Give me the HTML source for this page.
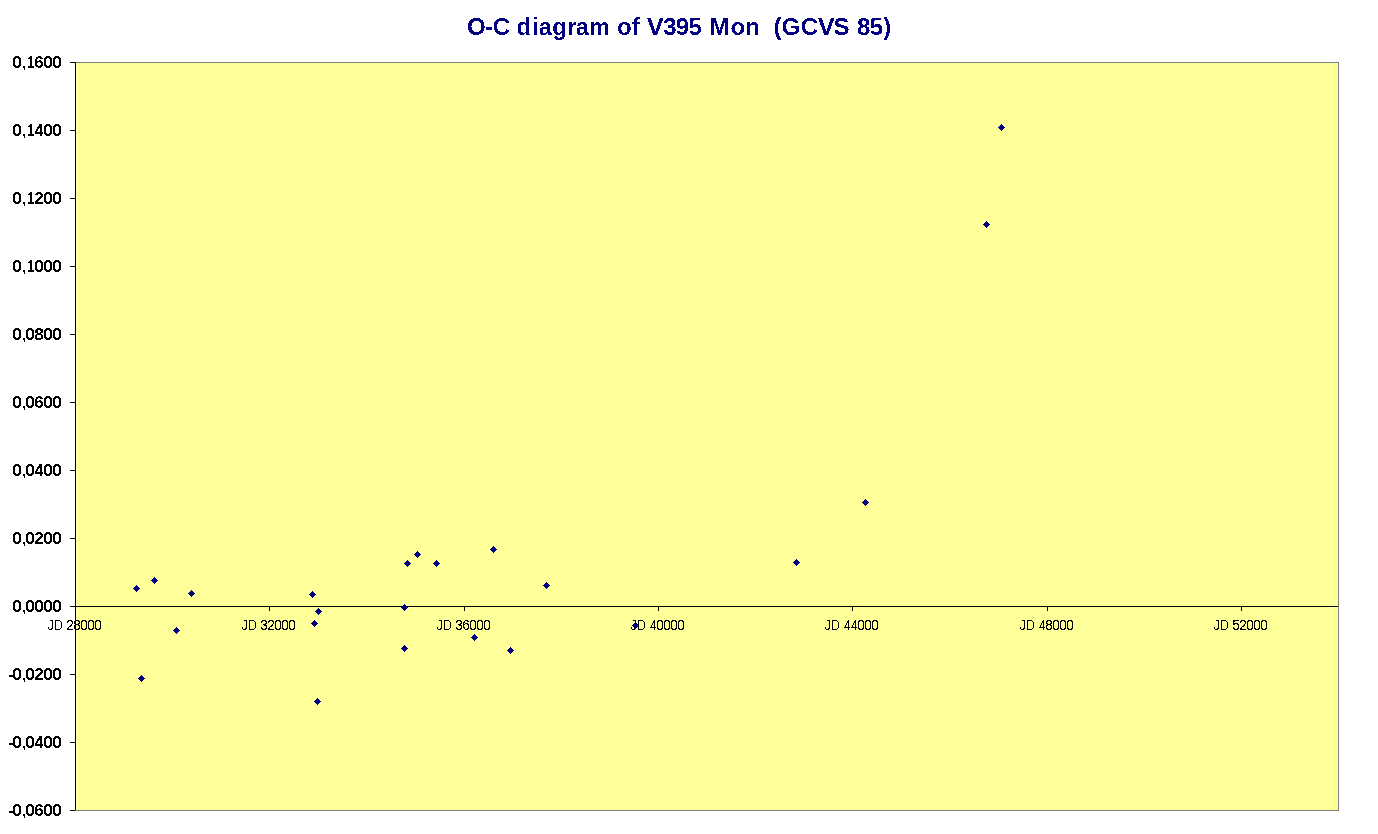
<!DOCTYPE html>
<html lang="en">
<head>
<meta charset="utf-8">
<title>O-C diagram of V395 Mon (GCVS 85)</title>
<style>
html,body{margin:0;padding:0;background:#fff;}
body{width:1378px;height:834px;overflow:hidden;}
svg{display:block;}
text{font-family:"Liberation Sans",Arial,Helvetica,sans-serif;white-space:pre;}
.ttl{font-size:24px;font-weight:bold;fill:#000080;}
.yl{font-size:17.25px;font-weight:bold;fill:#000;}
.xl{font-size:13.75px;fill:#000;}
.pt{fill:#000080;}
</style>
</head>
<body>
<svg width="1378" height="834" viewBox="0 0 1378 834">
<rect x="0" y="0" width="1378" height="834" fill="#ffffff"/>
<filter id="al" filterUnits="userSpaceOnUse" x="0" y="0" width="1378" height="834" color-interpolation-filters="sRGB"><feComponentTransfer><feFuncA type="discrete" tableValues="0 1"/></feComponentTransfer></filter>
<filter id="al2" filterUnits="userSpaceOnUse" x="0" y="0" width="1378" height="834" color-interpolation-filters="sRGB"><feComponentTransfer><feFuncA type="discrete" tableValues="0 0 0 0 1 1 1 1 1"/></feComponentTransfer></filter>
<g shape-rendering="crispEdges">
<rect x="75" y="62" width="1264" height="749" fill="#808080"/>
<rect x="76" y="63" width="1262" height="747" fill="#ffff99"/>
<rect x="75" y="62" width="1" height="748" fill="#000"/>
<rect x="70" y="62" width="5" height="1" fill="#000"/>
<rect x="70" y="130" width="5" height="1" fill="#000"/>
<rect x="70" y="198" width="5" height="1" fill="#000"/>
<rect x="70" y="266" width="5" height="1" fill="#000"/>
<rect x="70" y="334" width="5" height="1" fill="#000"/>
<rect x="70" y="402" width="5" height="1" fill="#000"/>
<rect x="70" y="470" width="5" height="1" fill="#000"/>
<rect x="70" y="538" width="5" height="1" fill="#000"/>
<rect x="70" y="606" width="5" height="1" fill="#000"/>
<rect x="70" y="674" width="5" height="1" fill="#000"/>
<rect x="70" y="742" width="5" height="1" fill="#000"/>
<rect x="70" y="810" width="5" height="1" fill="#000"/>
<rect x="75" y="606" width="1263" height="1" fill="#000"/>
<rect x="75" y="606" width="1" height="5" fill="#000"/>
<rect x="269" y="606" width="1" height="5" fill="#000"/>
<rect x="464" y="606" width="1" height="5" fill="#000"/>
<rect x="658" y="606" width="1" height="5" fill="#000"/>
<rect x="852" y="606" width="1" height="5" fill="#000"/>
<rect x="1047" y="606" width="1" height="5" fill="#000"/>
<rect x="1241" y="606" width="1" height="5" fill="#000"/>
<path class="pt" d="M136 585h1v1h1v1h1v1h1v1h-1v1h-1v1h-1v1h-1v-1h-1v-1h-1v-1h-1v-1h1v-1h1v-1h1z"/>
<path class="pt" d="M154 577h1v1h1v1h1v1h1v1h-1v1h-1v1h-1v1h-1v-1h-1v-1h-1v-1h-1v-1h1v-1h1v-1h1z"/>
<path class="pt" d="M191 590h1v1h1v1h1v1h1v1h-1v1h-1v1h-1v1h-1v-1h-1v-1h-1v-1h-1v-1h1v-1h1v-1h1z"/>
<path class="pt" d="M176 627h1v1h1v1h1v1h1v1h-1v1h-1v1h-1v1h-1v-1h-1v-1h-1v-1h-1v-1h1v-1h1v-1h1z"/>
<path class="pt" d="M141 675h1v1h1v1h1v1h1v1h-1v1h-1v1h-1v1h-1v-1h-1v-1h-1v-1h-1v-1h1v-1h1v-1h1z"/>
<path class="pt" d="M312 591h1v1h1v1h1v1h1v1h-1v1h-1v1h-1v1h-1v-1h-1v-1h-1v-1h-1v-1h1v-1h1v-1h1z"/>
<path class="pt" d="M318 608h1v1h1v1h1v1h1v1h-1v1h-1v1h-1v1h-1v-1h-1v-1h-1v-1h-1v-1h1v-1h1v-1h1z"/>
<path class="pt" d="M314 620h1v1h1v1h1v1h1v1h-1v1h-1v1h-1v1h-1v-1h-1v-1h-1v-1h-1v-1h1v-1h1v-1h1z"/>
<path class="pt" d="M404 604h1v1h1v1h1v1h1v1h-1v1h-1v1h-1v1h-1v-1h-1v-1h-1v-1h-1v-1h1v-1h1v-1h1z"/>
<path class="pt" d="M407 560h1v1h1v1h1v1h1v1h-1v1h-1v1h-1v1h-1v-1h-1v-1h-1v-1h-1v-1h1v-1h1v-1h1z"/>
<path class="pt" d="M417 551h1v1h1v1h1v1h1v1h-1v1h-1v1h-1v1h-1v-1h-1v-1h-1v-1h-1v-1h1v-1h1v-1h1z"/>
<path class="pt" d="M436 560h1v1h1v1h1v1h1v1h-1v1h-1v1h-1v1h-1v-1h-1v-1h-1v-1h-1v-1h1v-1h1v-1h1z"/>
<path class="pt" d="M404 645h1v1h1v1h1v1h1v1h-1v1h-1v1h-1v1h-1v-1h-1v-1h-1v-1h-1v-1h1v-1h1v-1h1z"/>
<path class="pt" d="M317 698h1v1h1v1h1v1h1v1h-1v1h-1v1h-1v1h-1v-1h-1v-1h-1v-1h-1v-1h1v-1h1v-1h1z"/>
<path class="pt" d="M493 546h1v1h1v1h1v1h1v1h-1v1h-1v1h-1v1h-1v-1h-1v-1h-1v-1h-1v-1h1v-1h1v-1h1z"/>
<path class="pt" d="M546 582h1v1h1v1h1v1h1v1h-1v1h-1v1h-1v1h-1v-1h-1v-1h-1v-1h-1v-1h1v-1h1v-1h1z"/>
<path class="pt" d="M474 634h1v1h1v1h1v1h1v1h-1v1h-1v1h-1v1h-1v-1h-1v-1h-1v-1h-1v-1h1v-1h1v-1h1z"/>
<path class="pt" d="M510 647h1v1h1v1h1v1h1v1h-1v1h-1v1h-1v1h-1v-1h-1v-1h-1v-1h-1v-1h1v-1h1v-1h1z"/>
<path class="pt" d="M635 622h1v1h1v1h1v1h1v1h-1v1h-1v1h-1v1h-1v-1h-1v-1h-1v-1h-1v-1h1v-1h1v-1h1z"/>
<path class="pt" d="M865 499h1v1h1v1h1v1h1v1h-1v1h-1v1h-1v1h-1v-1h-1v-1h-1v-1h-1v-1h1v-1h1v-1h1z"/>
<path class="pt" d="M796 559h1v1h1v1h1v1h1v1h-1v1h-1v1h-1v1h-1v-1h-1v-1h-1v-1h-1v-1h1v-1h1v-1h1z"/>
<path class="pt" d="M1001 124h1v1h1v1h1v1h1v1h-1v1h-1v1h-1v1h-1v-1h-1v-1h-1v-1h-1v-1h1v-1h1v-1h1z"/>
<path class="pt" d="M986 221h1v1h1v1h1v1h1v1h-1v1h-1v1h-1v1h-1v-1h-1v-1h-1v-1h-1v-1h1v-1h1v-1h1z"/>
</g>
<g filter="url(#al)">
<text class="yl" y="68"><tspan x="12.2 21.7">0,</tspan><tspan x="27.2" textLength="6.8" lengthAdjust="spacingAndGlyphs">1</tspan><tspan x="34.2 43.2 52.2">600</tspan></text>
<text class="yl" y="136"><tspan x="12.2 21.7">0,</tspan><tspan x="27.2" textLength="6.8" lengthAdjust="spacingAndGlyphs">1</tspan><tspan x="34.8" textLength="8.3" lengthAdjust="spacingAndGlyphs">4</tspan><tspan x="43.2 52.2">00</tspan></text>
<text class="yl" y="204"><tspan x="12.2 21.7">0,</tspan><tspan x="27.2" textLength="6.8" lengthAdjust="spacingAndGlyphs">1</tspan><tspan x="34.2 43.2 52.2">200</tspan></text>
<text class="yl" y="272"><tspan x="12.2 21.7">0,</tspan><tspan x="27.2" textLength="6.8" lengthAdjust="spacingAndGlyphs">1</tspan><tspan x="34.2 43.2 52.2">000</tspan></text>
<text class="yl" y="340"><tspan x="12.2 21.7 25.2 34.2 43.2 52.2">0,0800</tspan></text>
<text class="yl" y="408"><tspan x="12.2 21.7 25.2 34.2 43.2 52.2">0,0600</tspan></text>
<text class="yl" y="476"><tspan x="12.2 21.7 25.2">0,0</tspan><tspan x="34.8" textLength="8.3" lengthAdjust="spacingAndGlyphs">4</tspan><tspan x="43.2 52.2">00</tspan></text>
<text class="yl" y="544"><tspan x="12.2 21.7 25.2 34.2 43.2 52.2">0,0200</tspan></text>
<text class="yl" y="612"><tspan x="12.2 21.7 25.2 34.2 43.2 52.2">0,0000</tspan></text>
<text class="yl" y="680"><tspan x="8.3 12.2 21.7 25.2 34.2 43.2 52.2">-0,0200</tspan></text>
<text class="yl" y="748"><tspan x="8.3 12.2 21.7 25.2">-0,0</tspan><tspan x="34.8" textLength="8.3" lengthAdjust="spacingAndGlyphs">4</tspan><tspan x="43.2 52.2">00</tspan></text>
<text class="yl" y="816"><tspan x="8.3 12.2 21.7 25.2 34.2 43.2 52.2">-0,0600</tspan></text>
</g>
<g filter="url(#al2)">
<text class="xl" y="630"><tspan x="47.3">J</tspan><tspan x="54.2" textLength="8.8" lengthAdjust="spacingAndGlyphs">D</tspan><tspan x="63 66.2 73.2 80.2 87.2 94.2"> 28000</tspan></text>
<text class="xl" y="630"><tspan x="241.3">J</tspan><tspan x="248.2" textLength="8.8" lengthAdjust="spacingAndGlyphs">D</tspan><tspan x="257 260.2 267.2 274.2 281.2 288.2"> 32000</tspan></text>
<text class="xl" y="630"><tspan x="436.3">J</tspan><tspan x="443.2" textLength="8.8" lengthAdjust="spacingAndGlyphs">D</tspan><tspan x="452 455.2 462.2 469.2 476.2 483.2"> 36000</tspan></text>
<text class="xl" y="630"><tspan x="630.3">J</tspan><tspan x="637.2" textLength="8.8" lengthAdjust="spacingAndGlyphs">D</tspan><tspan x="646"> </tspan><tspan x="650.2" textLength="6.2" lengthAdjust="spacingAndGlyphs">4</tspan><tspan x="656.2 663.2 670.2 677.2">0000</tspan></text>
<text class="xl" y="630"><tspan x="824.3">J</tspan><tspan x="831.2" textLength="8.8" lengthAdjust="spacingAndGlyphs">D</tspan><tspan x="840"> </tspan><tspan x="844.2" textLength="6.2" lengthAdjust="spacingAndGlyphs">4</tspan><tspan x="851.2" textLength="6.2" lengthAdjust="spacingAndGlyphs">4</tspan><tspan x="857.2 864.2 871.2">000</tspan></text>
<text class="xl" y="630"><tspan x="1019.3">J</tspan><tspan x="1026.2" textLength="8.8" lengthAdjust="spacingAndGlyphs">D</tspan><tspan x="1035"> </tspan><tspan x="1039.2" textLength="6.2" lengthAdjust="spacingAndGlyphs">4</tspan><tspan x="1045.2 1052.2 1059.2 1066.2">8000</tspan></text>
<text class="xl" y="630"><tspan x="1213.3">J</tspan><tspan x="1220.2" textLength="8.8" lengthAdjust="spacingAndGlyphs">D</tspan><tspan x="1229 1232.2 1239.2 1246.2 1253.2 1260.2"> 52000</tspan></text>
</g>
<g filter="url(#al)">
<text class="ttl" y="35" xml:space="preserve"><tspan x="467 485.17 492.7 510.03 516.5 532.16 538.83 552.18 567.24 575.78">O-C diagra</tspan><tspan x="589.13" textLength="20.4" lengthAdjust="spacingAndGlyphs">m</tspan><tspan x="609.87 617 631.66 639.65"> of </tspan><tspan x="646.7" textLength="17" lengthAdjust="spacingAndGlyphs">V</tspan><tspan x="663.3 675.7 688.5 701.85 709.5 730.5 745.16 759.82 766.49 773.5 781.49 800.7">395 Mon  (GC</tspan><tspan x="817.7" textLength="17" lengthAdjust="spacingAndGlyphs">V</tspan><tspan x="833.5 849.51 857 869.8 883.15">S 85)</tspan></text>
</g>
</svg>
</body>
</html>
